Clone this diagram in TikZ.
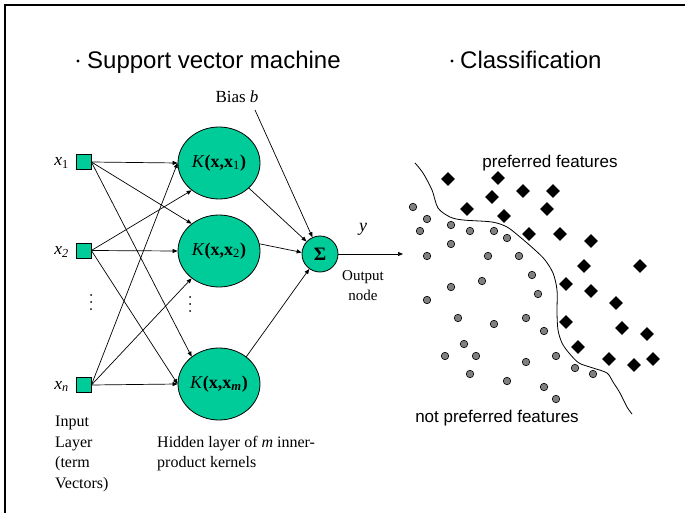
\documentclass[tikz,border=0pt]{standalone}
\usepackage{fontspec}
\setmainfont{Liberation Serif}
\newfontfamily\arial{Liberation Sans}
\usetikzlibrary{arrows.meta,shapes.geometric}
\definecolor{sea}{HTML}{00CC99}
\definecolor{dotgray}{HTML}{808080}
\begin{document}
\begin{tikzpicture}[x=1pt,y=-1pt,
  inp/.style={draw=black,fill=sea,minimum size=15pt,inner sep=0pt,line width=0.8pt},
  kern/.style={ellipse,draw=black,fill=sea,minimum width=82pt,minimum height=72pt,inner sep=0pt,line width=0.8pt,font=\fontsize{18}{20}\selectfont},
  sumnode/.style={circle,draw=black,fill=sea,minimum size=36pt,inner sep=0pt,line width=0.8pt,font=\bfseries\fontsize{19}{20}\selectfont},
  conn/.style={-{Triangle[length=5pt,width=4pt]},line width=0.7pt},
  title/.style={font=\arial\fontsize{24}{28}\selectfont,inner sep=0pt,anchor=base west},
  sans/.style={font=\arial\fontsize{17}{20}\selectfont,inner sep=0pt},
  serif/.style={font=\fontsize{16}{20.5}\selectfont,inner sep=0pt},
  xl/.style={font=\fontsize{17.5}{20}\selectfont,inner sep=0pt,anchor=base east},
  dia/.style={diamond,fill=black,minimum size=14pt,inner sep=0pt},
  gdot/.style={circle,draw=black,fill=dotgray,minimum size=7.5pt,inner sep=0pt,line width=0.6pt}]
\useasboundingbox (0,0) rectangle (685,513);
\fill[white] (0,0) rectangle (685,513);
% frame
\draw[line width=2pt] (5,513) -- (5,5) -- (685,5);
% titles
\node[title] (t1) at (87,69) {Support vector machine};
\node[title] (t2) at (460,69) {Classification};
\fill (78,61) circle (1.7);
\fill (452,61) circle (1.7);
% input layer
\node[inp] (x1) at (83.5,162) {};
\node[inp] (x2) at (83.5,250.5) {};
\node[inp] (xn) at (83.5,385) {};
\node[xl] (lx1) at (69,166) {\textit{x}\textsubscript{1}};
\node[xl] (lx2) at (69,254.5) {\textit{x}\textsubscript{\textit{2}}};
\node[xl] (lxn) at (69,389) {\textit{x}\textsubscript{\textit{n}}};
\foreach \yy in {295,302,309} \fill (91,\yy) circle (1);
% hidden layer
\node[kern] (k1) at (219,163) {\textit{K}\textbf{(x,x}\textsubscript{1}\textbf{)}};
\node[kern] (k2) at (219,251) {\textit{K}\textbf{(x,x}\textsubscript{2}\textbf{)}};
\node[kern] (km) at (219,384) {\textit{K}\textbf{(x,x}\textsubscript{\textbf{\textit{m}}}\textbf{)}};
\foreach \yy in {297,304,311} \fill (190,\yy) circle (1);
% output
\node[sumnode] (sig) at (320,254) {Σ};
\coordinate (outend) at (403,254);
\coordinate (bstart) at (255,110);
\node[serif,font=\fontsize{17}{20}\selectfont] (bias) at (237,97) {Bias \textit{b}};
\node[serif,font=\fontsize{18}{20}\selectfont] (ylab) at (363,229) {\textit{y}};
\node[serif,font=\fontsize{15}{20}\selectfont,align=center] (outlbl) at (363,286) {Output\\node};
% connections
\draw[conn] (x1.east) -- (k1.west);
\draw[conn] (x1.east) -- (k2.135);
\draw[conn] (x1.east) -- (km.135);
\draw[conn] (x2.east) -- (k1.225);
\draw[conn] (x2.east) -- (k2.west);
\draw[conn] (x2.east) -- (km.west);
\draw[conn] (xn.east) -- (k1.west);
\draw[conn] (xn.east) -- (k2.225);
\draw[conn] (xn.east) -- (km.west);
\draw[conn] (k1.-40) -- (sig);
\draw[conn] (k2.10) -- (sig.175);
\draw[conn] (km.45) -- (sig);
\draw[conn] (bstart) -- (sig);
\draw[conn] (sig.east) -- (outend);
% captions
\node[serif,anchor=north west,align=left] (inlbl) at (55,416) {Input\\Layer\\(term\\Vectors)};
\node[serif,anchor=north west,align=left] (hidlbl) at (157,436) {Hidden layer of \textit{m} inner-\\product kernels};
% classification
\draw[line width=0.8pt] plot[smooth,tension=0.5] coordinates {(415,163) (423,173) (432,190) (438,208) (450,217) (463,220) (492,222) (507,227) (520,237) (535,250) (545,260) (553,273) (557,290) (557,313) (558,330) (562,343) (569,353) (579,363) (593,368) (607,373) (613,382) (620,393) (627,407) (632,414)};
\foreach [count=\i] \p in {(448,179),(498,178),(523,191),(553,191),(492,197),(467,209),(547,209),(504,216),(529,234),(560,234),(591,241),(640,266),(584,266),(566,284),(591,291),(616,303),(566,322),(622,328),(647,334),(578,347),(609,359),(634,365),(653,359)}
  \node[dia] (d\i) at \p {};
\foreach [count=\i] \p in {(413,207),(427,219),(420,231),(451,225),(470,231),(494,231),(507,238),(451,244),(427,256),(488,256),(519,256),(532,275),(482,281),(451,287),(538,294),(427,300),(458,318),(494,324),(526,318),(544,331),(464,344),(445,356),(476,356),(526,362),(556,356),(470,374),(507,381),(544,387),(556,399),(575,368),(593,374)}
  \node[gdot] (g\i) at \p {};
\node[sans] (pref) at (550,163) {preferred features};
\node[sans] (npref) at (497,418) {not preferred features};
\end{tikzpicture}
\end{document}
